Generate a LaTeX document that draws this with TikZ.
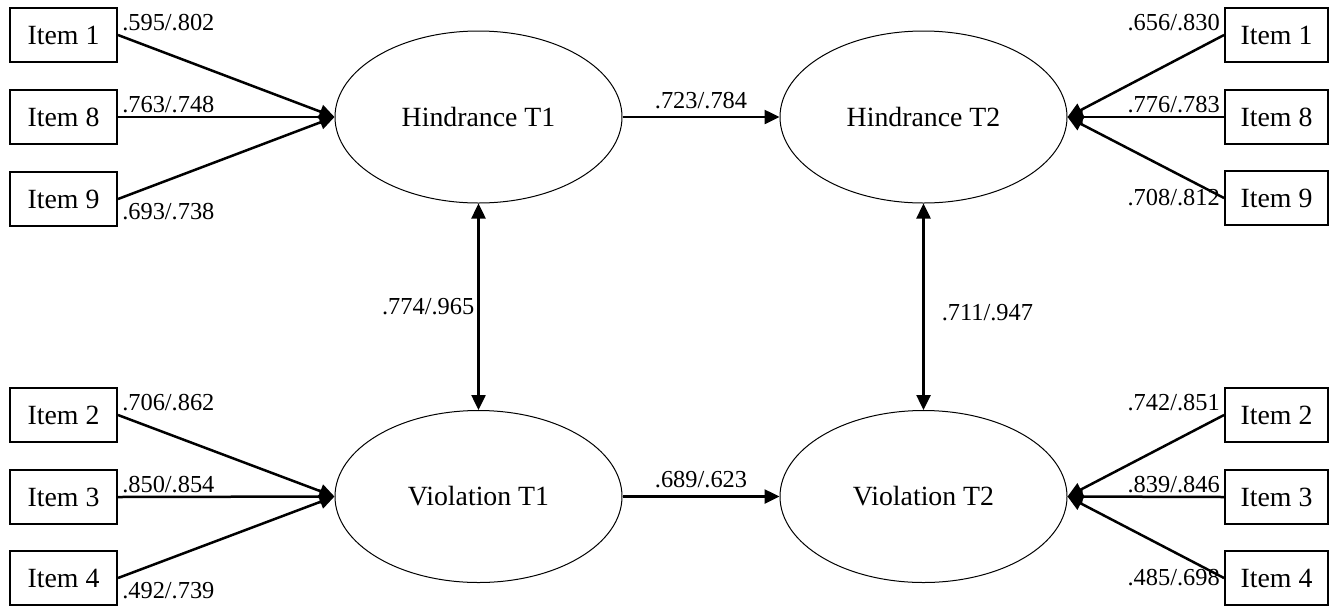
\documentclass[tikz,border=0pt]{standalone}
\usepackage{fontspec}
\setmainfont{Liberation Serif}
\usepackage{tikz}
\usetikzlibrary{arrows.meta,shapes,positioning}
\tikzstyle{item} = [rectangle, draw, line width=1pt, minimum width=53.5pt, minimum height=27pt, inner sep=0pt, font=\fontsize{13.9}{16}\selectfont]
\tikzstyle{factor} = [ellipse, draw, line width=0.5pt, minimum width=143.5pt, minimum height=86pt, inner sep=0pt, font=\fontsize{13.9}{16}\selectfont]
\tikzstyle{arrow} = [line width=1.25pt, -{Triangle[length=7.5pt,width=7pt]}]
\tikzstyle{biarrow} = [line width=1.25pt, {Triangle[length=7.5pt,width=7pt]}-{Triangle[length=7.5pt,width=7pt]}]
\tikzstyle{coef} = [font=\fontsize{12.2}{14}\selectfont, inner sep=1.5pt]

\begin{document}
\begin{tikzpicture}[x=0.5pt, y=-0.5pt]
\useasboundingbox (0,0) rectangle (1338,606);

% Factors
\node[factor] (h1) at (478.5,117) {Hindrance T1};
\node[factor] (h2) at (923.5,117) {Hindrance T2};
\node[factor] (v1) at (478.5,496.5) {Violation T1};
\node[factor] (v2) at (923.5,496.5) {Violation T2};

% Items T1
\node[item] (h1i1) at (63.5,35) {Item 1};
\node[item] (h1i8) at (63.5,117) {Item 8};
\node[item] (h1i9) at (63.5,199) {Item 9};
\node[item] (v1i2) at (63.5,415) {Item 2};
\node[item] (v1i3) at (63.5,497) {Item 3};
\node[item] (v1i4) at (63.5,578) {Item 4};

% Items T2
\node[item, minimum width=51.5pt] (h2i1) at (1276.5,35) {Item 1};
\node[item, minimum width=51.5pt] (h2i8) at (1276.5,117) {Item 8};
\node[item, minimum width=51.5pt] (h2i9) at (1276.5,198) {Item 9};
\node[item, minimum width=51.5pt] (v2i2) at (1276.5,415) {Item 2};
\node[item, minimum width=51.5pt] (v2i3) at (1276.5,497) {Item 3};
\node[item, minimum width=51.5pt] (v2i4) at (1276.5,578) {Item 4};

% Loadings T1
\draw[arrow] (h1i1.east) -- node[coef, pos=0, above right] {.595/.802} (h1.west);
\draw[arrow] (h1i8.east) -- node[coef, pos=0, above right] {.763/.748} (h1.west);
\draw[arrow] (h1i9.east) -- node[coef, pos=0, below right] {.693/.738} (h1.west);
\draw[arrow] (v1i2.east) -- node[coef, pos=0, above right] {.706/.862} (v1.west);
\draw[arrow] (v1i3.east) -- node[coef, pos=0, above right] {.850/.854} (v1.west);
\draw[arrow] (v1i4.east) -- node[coef, pos=0, below right] {.492/.739} (v1.west);

% Loadings T2
\draw[arrow] (h2i1.west) -- node[coef, pos=0, above left] {.656/.830} (h2.east);
\draw[arrow] (h2i8.west) -- node[coef, pos=0, above left] {.776/.783} (h2.east);
\draw[arrow] (h2i9.west) -- node[coef, pos=0, left] {.708/.812} (h2.east);
\draw[arrow] (v2i2.west) -- node[coef, pos=0, above left] {.742/.851} (v2.east);
\draw[arrow] (v2i3.west) -- node[coef, pos=0, above left] {.839/.846} (v2.east);
\draw[arrow] (v2i4.west) -- node[coef, pos=0, left] {.485/.698} (v2.east);

% Stability paths
\draw[arrow] (h1.east) -- node[coef, above, inner sep=3.5pt] {.723/.784} (h2.west);
\draw[arrow] (v1.east) -- node[coef, above, inner sep=3.5pt] {.689/.623} (v2.west);

% Correlations
\draw[biarrow] (h1.south) -- node[coef, left] {.774/.965} (v1.north);
\draw[biarrow] (h2.south) -- node[coef, right, xshift=7pt, yshift=-3pt] {.711/.947} (v2.north);
\end{tikzpicture}
\end{document}
